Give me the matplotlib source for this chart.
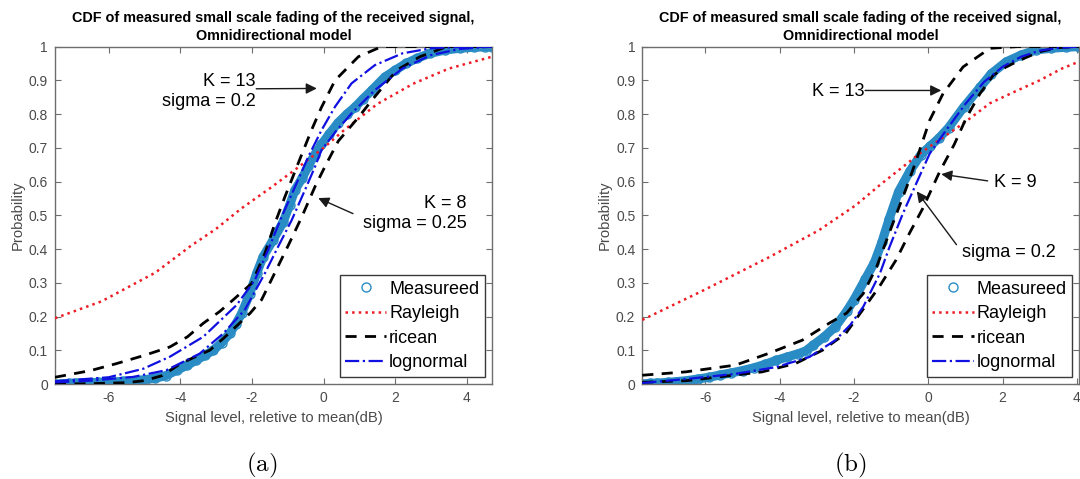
import matplotlib
matplotlib.use("Agg")
import matplotlib.pyplot as plt

plt.rcParams['font.family'] = ['Liberation Sans', 'DejaVu Sans']
plt.rcParams['mathtext.fontset'] = 'cm'
plt.rcParams['axes.unicode_minus'] = False

# ---------------- panel (a) ----------------
meas_a_x = [-7.5, -7.3, -7.1, -6.9, -6.6, -6.3, -5.9, -5.6, -5.3, -5.0, -4.7, -4.4, -4.1,
            -3.8, -3.55, -3.3, -3.08, -2.85, -2.62, -2.45, -2.29, -2.06, -1.87, -1.69,
            -1.41, -1.13, -0.95, -0.8, -0.6, -0.43, -0.25, -0.06, 0.15, 0.41, 0.65, 0.87,
            1.1, 1.34, 1.71, 2.0, 2.3, 2.6, 2.97, 3.4, 3.8, 4.2, 4.5, 4.7]
meas_a_y = [0.0, 0.001, 0.002, 0.003, 0.004, 0.005, 0.006, 0.008, 0.01, 0.013, 0.017,
            0.025, 0.041, 0.056, 0.071, 0.086, 0.1, 0.122, 0.15, 0.178, 0.209, 0.268,
            0.328, 0.377, 0.427, 0.48, 0.53, 0.575, 0.61, 0.645, 0.68, 0.71, 0.74, 0.775,
            0.8, 0.82, 0.845, 0.87, 0.91, 0.93, 0.95, 0.965, 0.98, 0.99, 0.995, 0.998,
            0.999, 1.0]

ray_a_x = [-7.5, -6.2, -4.7, -3.7, -3.0, -2.3, -1.5, -0.8, 0.0, 0.6, 1.5, 2.5, 3.5, 4.7]
ray_a_y = [0.195, 0.245, 0.33, 0.41, 0.46, 0.52, 0.58, 0.635, 0.70, 0.755, 0.83, 0.89,
           0.935, 0.97]

k13_a_x = [-7.5, -6.5, -5.8, -5.0, -4.29, -3.8, -3.36, -2.9, -2.53, -2.01, -1.64, -1.36,
           -1.08, -0.71, -0.34, -0.06, 0.32, 0.97, 1.62, 2.5, 3.5, 4.7]
k13_a_y = [0.02, 0.04, 0.06, 0.085, 0.11, 0.14, 0.18, 0.215, 0.249, 0.298, 0.387, 0.476,
           0.555, 0.654, 0.752, 0.82, 0.9, 0.97, 1.0, 1.0, 1.0, 1.0]

k8_a_x = [-7.5, -6.5, -5.5, -5.0, -4.5, -4.0, -3.6, -3.18, -2.8, -2.4, -2.05, -1.73,
          -1.36, -0.99, -0.61, -0.24, 0.04, 0.41, 0.97, 1.34, 2.04, 2.69, 3.44, 4.7]
k8_a_y = [0.0, 0.001, 0.004, 0.01, 0.025, 0.06, 0.08, 0.1, 0.135, 0.175, 0.21, 0.25,
          0.33, 0.41, 0.495, 0.585, 0.645, 0.72, 0.79, 0.84, 0.93, 0.97, 1.0, 1.0]

logn1_a_x = [-7.5, -6.0, -5.04, -4.29, -3.36, -2.43, -1.92, -1.55, -1.17, -0.8, -0.43,
             -0.06, 0.32, 0.78, 1.43, 2.2, 3.0, 3.8, 4.7]
logn1_a_y = [0.008, 0.02, 0.045, 0.081, 0.14, 0.234, 0.308, 0.397, 0.496, 0.584, 0.673,
             0.752, 0.822, 0.891, 0.945, 0.98, 0.995, 0.999, 1.0]

logn2_a_x = [-7.5, -6.5, -5.32, -4.39, -3.46, -2.8, -2.2, -1.64, -1.27, -0.89, -0.52,
             -0.24, -0.06, 0.35, 0.78, 1.43, 2.2, 3.0, 3.8, 4.7]
logn2_a_y = [0.005, 0.01, 0.021, 0.041, 0.09, 0.15, 0.22, 0.328, 0.407, 0.486, 0.575,
             0.644, 0.693, 0.75, 0.802, 0.871, 0.935, 0.975, 0.993, 1.0]

# ---------------- panel (b) ----------------
meas_b_x = [-7.7, -7.5, -7.3, -7.0, -6.8, -6.5, -6.2, -5.9, -5.6, -5.3, -5.0, -4.7, -4.4,
            -4.1, -3.8, -3.5, -3.3, -3.1, -2.8, -2.5, -2.2, -2.0, -1.7, -1.45, -1.25,
            -1.05, -0.8, -0.5, -0.2, 0.05, 0.3, 0.55, 0.95, 1.4, 1.7, 2.1, 2.5, 2.9, 3.3,
            3.7, 4.05]
meas_b_y = [0.0, 0.002, 0.003, 0.005, 0.007, 0.01, 0.015, 0.02, 0.027, 0.033, 0.04, 0.048,
            0.058, 0.07, 0.08, 0.09, 0.098, 0.115, 0.14, 0.17, 0.215, 0.25, 0.31, 0.36, 0.42,
            0.49, 0.57, 0.63, 0.68, 0.705, 0.73, 0.76, 0.82, 0.88, 0.92, 0.955, 0.975, 0.99,
            0.995, 0.998, 1.0]

ray_b_x = [-7.7, -6.1, -4.3, -2.94, -1.95, -1.3, -0.23, 0.94, 1.66, 2.3, 3.0, 3.6, 4.05]
ray_b_y = [0.19, 0.275, 0.375, 0.456, 0.53, 0.59, 0.683, 0.772, 0.832, 0.865, 0.9, 0.935,
           0.955]

k13_b_x = [-7.7, -6.53, -5.19, -4.29, -3.39, -2.67, -2.2, -1.75, -1.39, -1.12, -0.85,
           -0.58, -0.32, -0.14, 0.04, 0.4, 0.94, 1.66, 2.4, 3.2, 4.05]
k13_b_y = [0.026, 0.036, 0.056, 0.091, 0.13, 0.18, 0.21, 0.268, 0.347, 0.427, 0.506,
           0.584, 0.664, 0.723, 0.782, 0.861, 0.94, 0.995, 1.0, 1.0, 1.0]

k9_b_x = [-7.7, -6.5, -5.64, -4.47, -3.57, -2.85, -2.22, -1.77, -1.32, -0.87, -0.51,
          -0.15, 0.31, 0.7, 1.03, 1.39, 1.75, 2.1, 2.47, 3.0, 3.5, 4.05]
k9_b_y = [0.005, 0.01, 0.021, 0.036, 0.061, 0.1, 0.15, 0.219, 0.288, 0.367, 0.446, 0.52,
          0.63, 0.71, 0.79, 0.86, 0.915, 0.94, 0.96, 0.985, 0.997, 1.0]

logn_b_x = [-7.7, -6.5, -5.2, -4.1, -3.2, -2.5, -2.1, -1.75, -1.3, -1.04, -0.68, -0.32,
            0.04, 0.5, 1.0, 1.5, 2.0, 2.5, 3.0, 3.5, 4.05]
logn_b_y = [0.003, 0.015, 0.03, 0.05, 0.08, 0.13, 0.175, 0.229, 0.328, 0.407, 0.506,
            0.595, 0.683, 0.755, 0.83, 0.895, 0.94, 0.97, 0.988, 0.996, 1.0]

xticks = [-6, -4, -2, 0, 2, 4]
yticks = [0, 0.1, 0.2, 0.3, 0.4, 0.5, 0.6, 0.7, 0.8, 0.9, 1]
ytick_labels = ['0', '0.1', '0.2', '0.3', '0.4', '0.5', '0.6', '0.7', '0.8', '0.9', '1']

title = 'CDF of measured small scale fading of the received signal,\nOmnidirectional model'
xlabel = 'Signal level, reletive to mean(dB)'

meas_col = '#2a8cc4'
axis_col = '#6e6e6e'
label_col = '#4a4a4a'

fig = plt.figure(figsize=(10.8, 4.79), dpi=100)
ax1 = fig.add_axes([0.0509, 0.1983, 0.4046, 0.7044])
ax2 = fig.add_axes([0.5947, 0.1983, 0.4044, 0.7044])


def style_axes(ax, xlim):
    ax.set_xlim(xlim)
    ax.set_ylim(0, 1)
    ax.set_xticks(xticks)
    ax.set_yticks(yticks)
    ax.set_yticklabels(ytick_labels)
    ax.tick_params(direction='in', top=True, right=True, length=4, width=0.8,
                   colors=axis_col, labelcolor=label_col, labelsize=10, pad=5)
    for s in ax.spines.values():
        s.set_color(axis_col)
        s.set_linewidth(1.0)
    ax.set_title(title, fontsize=10.4, fontweight='bold', pad=5, linespacing=1.3)
    ax.set_xlabel(xlabel, fontsize=10.6, color=label_col, labelpad=4)
    ax.set_ylabel('Probability', fontsize=10.6, color=label_col, labelpad=3)


def draw_measured(ax, x, y):
    ax.plot(x, y, color=meas_col, lw=6.5, solid_capstyle='round', zorder=2)
    ax.plot(x, y, linestyle='none', marker='o', ms=6.5, mfc='none', mec=meas_col,
            mew=1.0, label='Measureed', zorder=2)


def add_legend(ax):
    leg = ax.legend(loc='lower right', fontsize=13, handlelength=2.3, handletextpad=0.15,
                    labelspacing=0.42, borderpad=0.3, borderaxespad=0.4,
                    fancybox=False, framealpha=1)
    leg.get_frame().set_edgecolor('#3a3a3a')
    leg.get_frame().set_linewidth(1.0)


arrow = dict(arrowstyle='-|>', color='#1a1a1a', lw=1.0, mutation_scale=16,
             shrinkA=0, shrinkB=0)

# panel (a)
draw_measured(ax1, meas_a_x, meas_a_y)
ax1.plot(ray_a_x, ray_a_y, color='#ee1c25', ls=':', lw=1.8, label='Rayleigh', zorder=3)
ax1.plot(k13_a_x, k13_a_y, color='black', ls=(0, (4, 3)), lw=2, label='ricean', zorder=4)
ax1.plot(k8_a_x, k8_a_y, color='black', ls=(0, (4, 3)), lw=2, zorder=4)
ax1.plot(logn1_a_x, logn1_a_y, color='#1010e0', ls='-.', lw=1.6, label='lognormal', zorder=5)
ax1.plot(logn2_a_x, logn2_a_y, color='#1010e0', ls='-.', lw=1.6, zorder=5)
style_axes(ax1, (-7.5, 4.7))
add_legend(ax1)

ax1.text(-1.9, 0.868, 'K = 13\nsigma = 0.2', ha='right', va='center',
         multialignment='right', fontsize=13, linespacing=1.25)
ax1.annotate('', xy=(-0.19, 0.876), xytext=(-1.88, 0.875), arrowprops=arrow)
ax1.text(3.99, 0.505, 'K = 8\nsigma = 0.25', ha='right', va='center',
         multialignment='right', fontsize=13, linespacing=1.25)
ax1.annotate('', xy=(-0.15, 0.551), xytext=(0.82, 0.505), arrowprops=arrow)

# panel (b)
draw_measured(ax2, meas_b_x, meas_b_y)
ax2.plot(ray_b_x, ray_b_y, color='#ee1c25', ls=':', lw=1.8, label='Rayleigh', zorder=3)
ax2.plot(k13_b_x, k13_b_y, color='black', ls=(0, (4, 3)), lw=2, label='ricean', zorder=4)
ax2.plot(k9_b_x, k9_b_y, color='black', ls=(0, (4, 3)), lw=2, zorder=4)
ax2.plot(logn_b_x, logn_b_y, color='#1010e0', ls='-.', lw=1.6, label='lognormal', zorder=5)
style_axes(ax2, (-7.7, 4.06))
add_legend(ax2)

ax2.text(-1.71, 0.867, 'K = 13', ha='right', va='center', fontsize=13)
ax2.annotate('', xy=(0.35, 0.870), xytext=(-1.70, 0.870), arrowprops=arrow)
ax2.text(1.78, 0.597, 'K = 9', ha='left', va='center', fontsize=13)
ax2.annotate('', xy=(0.35, 0.622), xytext=(1.60, 0.602), arrowprops=arrow)
ax2.text(0.9, 0.391, 'sigma = 0.2', ha='left', va='center', fontsize=13)
ax2.annotate('', xy=(-0.31, 0.571), xytext=(0.76, 0.413), arrowprops=arrow)

# sub-figure captions
fig.text(261.7 / 1080, 1 - 465.5 / 479, r'$\mathrm{(a)}$', ha='center', va='center', fontsize=18)
fig.text(850 / 1080, 1 - 465.5 / 479, r'$\mathrm{(b)}$', ha='center', va='center', fontsize=18)

plt.savefig('out.png', dpi=100)
